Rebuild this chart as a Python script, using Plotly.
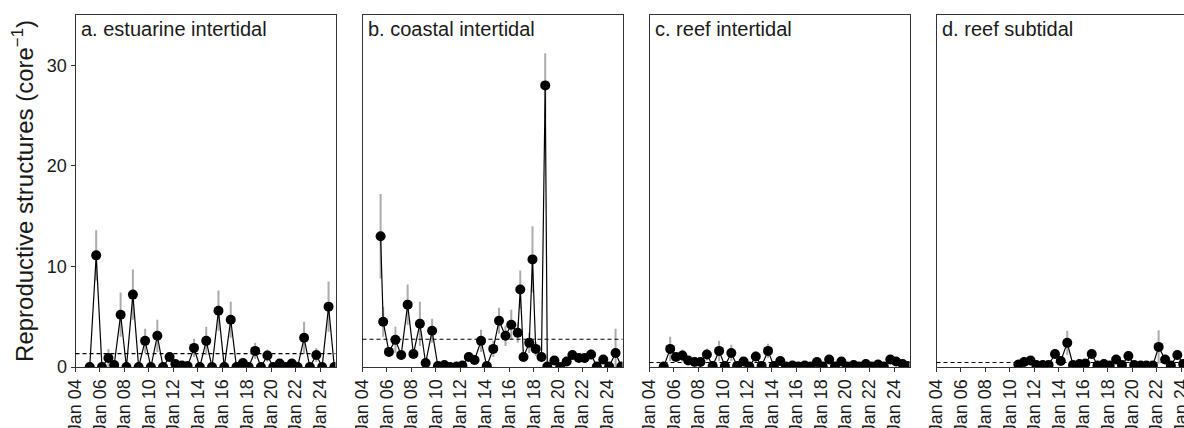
import plotly.graph_objects as go
from plotly.subplots import make_subplots

# Survey dates (autumn and spring surveys)
survey_dates = [
    "2005-03-01", "2005-09-10", "2006-03-01", "2006-09-10", "2007-03-01", "2007-09-10",
    "2008-03-01", "2008-09-10", "2009-03-01", "2009-09-10", "2010-03-01", "2010-09-10",
    "2011-03-01", "2011-09-10", "2012-03-01", "2012-09-10", "2013-03-01", "2013-09-10",
    "2014-03-01", "2014-09-10", "2015-03-01", "2015-09-10", "2016-03-01", "2016-09-10",
    "2017-03-01", "2017-09-10", "2018-03-01", "2018-09-10", "2019-03-01", "2019-09-10",
    "2020-03-01", "2020-09-10", "2021-03-01", "2021-09-10", "2022-03-01", "2022-09-10",
    "2023-03-01", "2023-09-10", "2024-03-01", "2024-09-10", "2025-03-01",
]

# a. estuarine intertidal
estuarine_dates = survey_dates
estuarine_mean = [
    0.0, 11.1, 0.0, 0.9, 0.2, 5.2, 0.0, 7.2, 0.0, 2.6, 0.0, 3.1, 0.0, 1.0,
    0.3, 0.15, 0.1, 1.9, 0.0, 2.6, 0.0, 5.6, 0.0, 4.7, 0.0, 0.4, 0.0, 1.6,
    0.0, 1.15, 0.0, 0.35, 0.0, 0.35, 0.0, 2.9, 0.0, 1.2, 0.0, 6.0, 0.0,
]
estuarine_se = [
    0.0, 2.5, 0.0, 0.9, 0.2, 2.2, 0.0, 2.5, 0.0, 1.2, 0.0, 1.6, 0.0, 0.5,
    0.15, 0.1, 0.1, 0.9, 0.0, 1.4, 0.0, 2.0, 0.0, 1.8, 0.0, 0.2, 0.0, 0.8,
    0.0, 0.6, 0.0, 0.15, 0.0, 0.15, 0.0, 1.6, 0.0, 0.7, 0.0, 2.5, 0.0,
]

# b. coastal intertidal (includes extra early-summer surveys)
coastal_dates = [
    "2005-06-25", "2005-09-10", "2006-03-01", "2006-09-10", "2007-03-01", "2007-09-10",
    "2008-03-01", "2008-09-10", "2009-03-01", "2009-09-10", "2010-03-01", "2010-09-10",
    "2011-03-01", "2011-09-10", "2012-03-01", "2012-09-10", "2013-03-01", "2013-09-10",
    "2014-03-01", "2014-09-10", "2015-03-01", "2015-09-10", "2016-03-01", "2016-09-10",
    "2016-11-25", "2017-03-01", "2017-08-20", "2017-11-25", "2018-03-01", "2018-08-20",
    "2018-12-10", "2019-02-10", "2019-09-10", "2020-03-01", "2020-09-10", "2021-03-01",
    "2021-09-10", "2022-03-01", "2022-09-10", "2023-03-01", "2023-09-10", "2024-03-01",
    "2024-09-10", "2025-03-01",
]
coastal_mean = [
    13.0, 4.5, 1.5, 2.7, 1.2, 6.2, 1.3, 4.3, 0.4, 3.6, 0.1, 0.2,
    0.0, 0.05, 0.15, 1.0, 0.7, 2.6, 0.1, 1.8, 4.6, 3.1, 4.2, 3.4,
    7.7, 1.0, 2.4, 10.7, 1.8, 1.0, 28.0, 0.05, 0.65, 0.0, 0.55, 1.2,
    0.9, 0.9, 1.25, 0.05, 0.75, 0.05, 1.4, 0.05,
]
coastal_se = [
    4.2, 1.5, 0.5, 1.3, 0.5, 2.0, 0.5, 2.2, 0.2, 1.2, 0.1, 0.1,
    0.0, 0.05, 0.1, 0.4, 0.4, 1.1, 0.1, 0.8, 1.3, 1.0, 1.5, 1.0,
    1.9, 0.5, 1.0, 3.3, 0.7, 0.5, 3.2, 0.05, 0.3, 0.0, 0.3, 0.5,
    0.4, 0.5, 0.5, 0.05, 0.3, 0.05, 2.4, 0.05,
]

# c. reef intertidal
reef_inter_dates = survey_dates
reef_inter_mean = [
    0.05, 1.8, 1.0, 1.15, 0.65, 0.5, 0.5, 1.25, 0.1, 1.6, 0.1, 1.4, 0.1, 0.55,
    0.05, 1.05, 0.1, 1.6, 0.1, 0.6, 0.05, 0.15, 0.05, 0.15, 0.05, 0.5, 0.05, 0.75,
    0.05, 0.55, 0.05, 0.2, 0.05, 0.3, 0.05, 0.25, 0.05, 0.75, 0.55, 0.3, 0.1,
]
reef_inter_se = [
    0.0, 1.2, 0.5, 0.6, 0.4, 0.3, 0.3, 0.6, 0.1, 1.0, 0.1, 0.8, 0.1, 0.3,
    0.05, 0.5, 0.1, 0.7, 0.1, 0.3, 0.05, 0.1, 0.05, 0.1, 0.05, 0.2, 0.05, 0.3,
    0.05, 0.2, 0.05, 0.1, 0.05, 0.15, 0.05, 0.1, 0.05, 0.3, 0.3, 0.2, 0.05,
]

# d. reef subtidal (surveys began in spring 2010)
reef_sub_dates = survey_dates[11:]
reef_sub_mean = [
    0.25, 0.5, 0.65, 0.2, 0.2, 0.2, 1.3, 0.6, 2.4, 0.2, 0.3, 0.35, 1.3, 0.15, 0.3,
    0.15, 0.75, 0.2, 1.1, 0.2, 0.15, 0.15, 0.15, 2.0, 0.75, 0.15, 1.2, 0.3, 0.6, 0.2,
]
reef_sub_se = [
    0.1, 0.2, 0.3, 0.1, 0.1, 0.1, 0.5, 0.3, 1.2, 0.1, 0.1, 0.15, 0.4, 0.1, 0.1,
    0.1, 0.3, 0.1, 0.5, 0.1, 0.1, 0.1, 0.1, 1.65, 0.4, 0.1, 0.5, 0.15, 0.3, 0.1,
]

panel_titles = ["a. estuarine intertidal", "b. coastal intertidal",
                "c. reef intertidal", "d. reef subtidal"]
long_term_mean = [1.33, 2.76, 0.44, 0.44]

panels = [
    (estuarine_dates, estuarine_mean, estuarine_se),
    (coastal_dates, coastal_mean, coastal_se),
    (reef_inter_dates, reef_inter_mean, reef_inter_se),
    (reef_sub_dates, reef_sub_mean, reef_sub_se),
]

# Page geometry (px)
W, H = 1200, 428
M_L, M_R, M_T, M_B = 75, 3, 15, 61
plot_w = W - M_L - M_R
panel_left = [75.5, 362.5, 649.5, 936.5]
panel_w = 260.0

fig = make_subplots(rows=1, cols=4, shared_yaxes=True)

for i, (dates, mean, se) in enumerate(panels):
    fig.add_trace(
        go.Scatter(
            x=dates, y=mean,
            mode="lines+markers",
            line=dict(color="black", width=1.2),
            marker=dict(color="black", size=10),
            error_y=dict(type="data", array=se, color="#ababab",
                         thickness=2, width=0),
            showlegend=False,
        ),
        row=1, col=i + 1,
    )
    fig.add_hline(y=long_term_mean[i], line=dict(color="black", width=1.1, dash="4px,3px"),
                  row=1, col=i + 1)

font_family = "Liberation Sans, Arial, sans-serif"
text_color = "#1a1a1a"

for i in range(4):
    d0 = (panel_left[i] - M_L) / plot_w
    d1 = (panel_left[i] + panel_w - M_L) / plot_w
    xa = "xaxis" if i == 0 else f"xaxis{i + 1}"
    ya = "yaxis" if i == 0 else f"yaxis{i + 1}"
    fig.layout[xa].update(
        domain=[max(d0, 0), min(d1, 1)],
        type="date", automargin=False,
        range=["2004-01-01", "2025-04-05"],
        tick0="2004-01-01", dtick="M24", tickformat="%b %y",
        tickangle=-90, ticks="outside", ticklen=4, tickcolor="#333333",
        tickfont=dict(size=18, color=text_color, family=font_family),
        showline=True, mirror=True, linecolor="#333333", linewidth=1,
        showgrid=False, zeroline=False,
    )
    fig.layout[ya].update(
        range=[0, 35], tickvals=[0, 10, 20, 30], automargin=False,
        showline=True, mirror=True, linecolor="#333333", linewidth=1,
        showgrid=False, zeroline=False,
        ticks="outside" if i == 0 else "", ticklen=4, tickcolor="#333333",
        showticklabels=(i == 0),
        tickfont=dict(size=18, color=text_color, family=font_family),
    )
    fig.add_annotation(
        text=panel_titles[i], xref=f"x{'' if i == 0 else i + 1} domain",
        yref=f"y{'' if i == 0 else i + 1} domain",
        x=0.015, y=1.0, xanchor="left", yanchor="top", yshift=-1,
        showarrow=False, font=dict(size=20, color=text_color, family=font_family),
    )

fig.layout.yaxis.update(
    title=dict(text="Reproductive structures (core<sup>\u22121</sup>)",
               font=dict(size=24, color=text_color, family=font_family), standoff=6),
)

fig.update_layout(
    width=W, height=H, autosize=False,
    margin=dict(l=M_L, r=M_R, t=M_T, b=M_B),
    plot_bgcolor="white", paper_bgcolor="white",
    font=dict(family=font_family),
)

fig.write_html(
    "out.html",
    post_script="document.body.style.margin='0';document.body.style.overflow='hidden';",
)
